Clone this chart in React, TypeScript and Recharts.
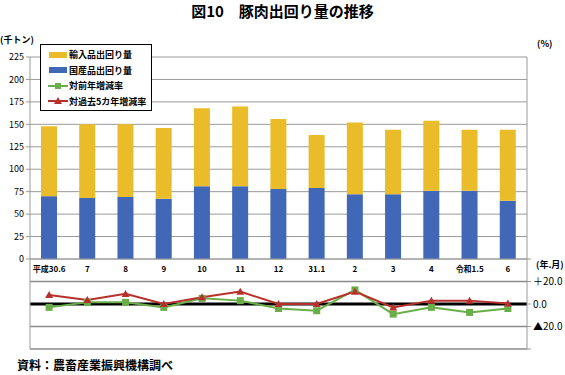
import {
  ComposedChart,
  BarChart,
  Bar,
  Line,
  XAxis,
  YAxis,
  CartesianGrid,
  ReferenceLine,
} from "recharts";

const JP = '"Noto Sans CJK JP", "Noto Sans", sans-serif';

// categories (年.月)
const months = ["平成30.6", "7", "8", "9", "10", "11", "12", "31.1", "2", "3", "4", "令和1.5", "6"];
// 千トン
const domestic = [70, 68, 69, 67, 81, 81, 78, 79, 72, 72, 76, 76, 65];
const imported = [78, 82, 81, 79, 87, 89, 78, 59, 80, 72, 78, 68, 79];
// %
const vsPrevYear = [-3, 1.5, 1.5, -3, 5, 3, -4, -6, 12.5, -9, -3, -7.5, -4];
const vsPast5Years = [8, 3.5, 9, 0, 6, 11, 0, 0, 11, -3, 3, 3, 0.5];

const leftTicks = [0, 25, 50, 75, 100, 125, 150, 175, 200, 225];
const pctTicks = [-40, -20, 0, 20, 40];

const COLORS = {
  imported: "#EBBC2A",
  domestic: "#4068B6",
  prev: "#6AAE4A",
  past5: "#B8302C",
  grid: "#9a9a9a",
};

const barData = months.map((m, i) => ({ label: m, domestic: domestic[i], imported: imported[i] }));
const lineData = months.map((m, i) => ({ label: m, prev: vsPrevYear[i], past5: vsPast5Years[i] }));

const Square = (props: any) => {
  const { cx, cy } = props;
  if (cx == null || cy == null) return null;
  return <rect x={cx - 3.5} y={cy - 3.5} width={7} height={7} fill={COLORS.prev} />;
};

const Triangle = (props: any) => {
  const { cx, cy } = props;
  if (cx == null || cy == null) return null;
  return <path d={`M${cx},${cy - 4} L${cx + 4},${cy + 3} L${cx - 4},${cy + 3} Z`} fill={COLORS.past5} />;
};

const legendItems = [
  { name: "輸入品出回り量", kind: "bar", color: COLORS.imported },
  { name: "国産品出回り量", kind: "bar", color: COLORS.domestic },
  { name: "対前年増減率", kind: "sq", color: COLORS.prev },
  { name: "対過去5カ年増減率", kind: "tri", color: COLORS.past5 },
];

function LegendBox() {
  return (
    <div
      style={{
        position: "absolute",
        left: 40,
        top: 44,
        border: "1px solid #000",
        background: "#fff",
        width: 112,
        height: 67,
        boxSizing: "border-box",
        padding: "2px 0 0 7px",
        fontFamily: JP,
        fontSize: 9,
        fontWeight: "bold",
      }}
    >
      {legendItems.map((it) => (
        <div key={it.name} style={{ display: "flex", alignItems: "center", height: 15.5, whiteSpace: "nowrap" }}>
          <svg width={20} height={10} style={{ marginRight: 1 }}>
            {it.kind === "bar" && <rect x={1} y={2} width={18} height={6} fill={it.color} />}
            {it.kind !== "bar" && <line x1={0} y1={5} x2={20} y2={5} stroke={it.color} strokeWidth={2} />}
            {it.kind === "sq" && <rect x={7} y={2} width={6} height={6} fill={it.color} />}
            {it.kind === "tri" && <path d="M10,1 L14,8 L6,8 Z" fill={it.color} />}
          </svg>
          <span>{it.name}</span>
        </div>
      ))}
    </div>
  );
}

// only ±20 and 0 carry labels
const pctFormat = (v: number) =>
  Math.abs(v) > 20 ? "" : v > 0 ? `＋${v.toFixed(1)}` : v < 0 ? `▲${Math.abs(v).toFixed(1)}` : "0.0";

export default function App() {
  return (
    <div
      style={{
        position: "absolute",
        left: 0,
        top: 0,
        width: 565,
        height: 375,
        background: "#fff",
        fontFamily: JP,
        color: "#000",
      }}
    >
      <div style={{ position: "absolute", top: 0, width: 565, textAlign: "center", fontSize: 15, fontWeight: "bold", lineHeight: "22px" }}>
        図10　豚肉出回り量の推移
      </div>
      <div style={{ position: "absolute", left: 0, top: 33, fontSize: 9, fontWeight: "bold", whiteSpace: "nowrap" }}>(千トン)</div>
      <div style={{ position: "absolute", left: 537, top: 37, fontSize: 9, fontWeight: "bold", whiteSpace: "nowrap" }}>(%)</div>
      <div style={{ position: "absolute", left: 536, top: 258, fontSize: 9, fontWeight: "bold", whiteSpace: "nowrap" }}>(年.月)</div>

      <div style={{ position: "absolute", left: 0, top: 0 }}>
        <BarChart width={565} height={285} data={barData} margin={{ top: 57, right: 0, bottom: 0, left: 0 }} barSize={16}>
          <CartesianGrid vertical={false} stroke={COLORS.grid} />
          <XAxis
            dataKey="label"
            interval={0}
            height={26}
            tickLine={false}
            tickMargin={1}
            axisLine={{ stroke: COLORS.grid }}
            tick={{ fontSize: 8, fontWeight: "bold", fill: "#000", fontFamily: JP }}
          />
          <YAxis
            width={30}
            domain={[0, 225]}
            ticks={leftTicks}
            interval={0}
            tickSize={4}
            tickLine={{ stroke: COLORS.grid }}
            axisLine={{ stroke: COLORS.grid }}
            tick={{ fontSize: 9, fill: "#000", fontFamily: JP }}
          />
          <YAxis
            yAxisId="r"
            orientation="right"
            width={38}
            domain={[0, 225]}
            ticks={leftTicks}
            tick={false}
            tickSize={4}
            tickLine={{ stroke: COLORS.grid }}
            axisLine={{ stroke: COLORS.grid }}
          />
          <Bar dataKey="domestic" stackId="a" fill={COLORS.domestic} isAnimationActive={false} />
          <Bar dataKey="imported" stackId="a" fill={COLORS.imported} isAnimationActive={false} />
        </BarChart>
      </div>

      <LegendBox />

      <div style={{ position: "absolute", left: 0, top: 249 }}>
        <ComposedChart width={565} height={110} data={lineData} margin={{ top: 10, right: 0, bottom: 10, left: 0 }}>
          <XAxis dataKey="label" scale="band" hide />
          <YAxis
            yAxisId="l"
            width={30}
            domain={[-40, 40]}
            ticks={pctTicks}
            tick={false}
            tickSize={4}
            tickLine={{ stroke: COLORS.grid }}
            axisLine={{ stroke: COLORS.grid }}
          />
          <YAxis
            orientation="right"
            width={38}
            domain={[-40, 40]}
            ticks={pctTicks}
            interval={0}
            tickSize={4}
            tickFormatter={pctFormat}
            tickLine={{ stroke: COLORS.grid }}
            axisLine={{ stroke: COLORS.grid }}
            tick={{ fontSize: 10, fill: "#000", fontFamily: JP }}
          />
          <ReferenceLine y={20} stroke="#8a8a8a" strokeWidth={1.5} />
          <ReferenceLine y={-20} stroke="#8a8a8a" strokeWidth={1.5} />
          <ReferenceLine y={-40} stroke="#8a8a8a" strokeWidth={1.5} />
          <ReferenceLine y={0} stroke="#000" strokeWidth={3} />
          <Line dataKey="prev" stroke={COLORS.prev} strokeWidth={2} dot={<Square />} isAnimationActive={false} />
          <Line dataKey="past5" stroke={COLORS.past5} strokeWidth={2} dot={<Triangle />} isAnimationActive={false} />
        </ComposedChart>
      </div>

      <div style={{ position: "absolute", left: 17, top: 356, fontSize: 12, fontWeight: "bold" }}>
        資料：農畜産業振興機構調べ
      </div>
    </div>
  );
}
